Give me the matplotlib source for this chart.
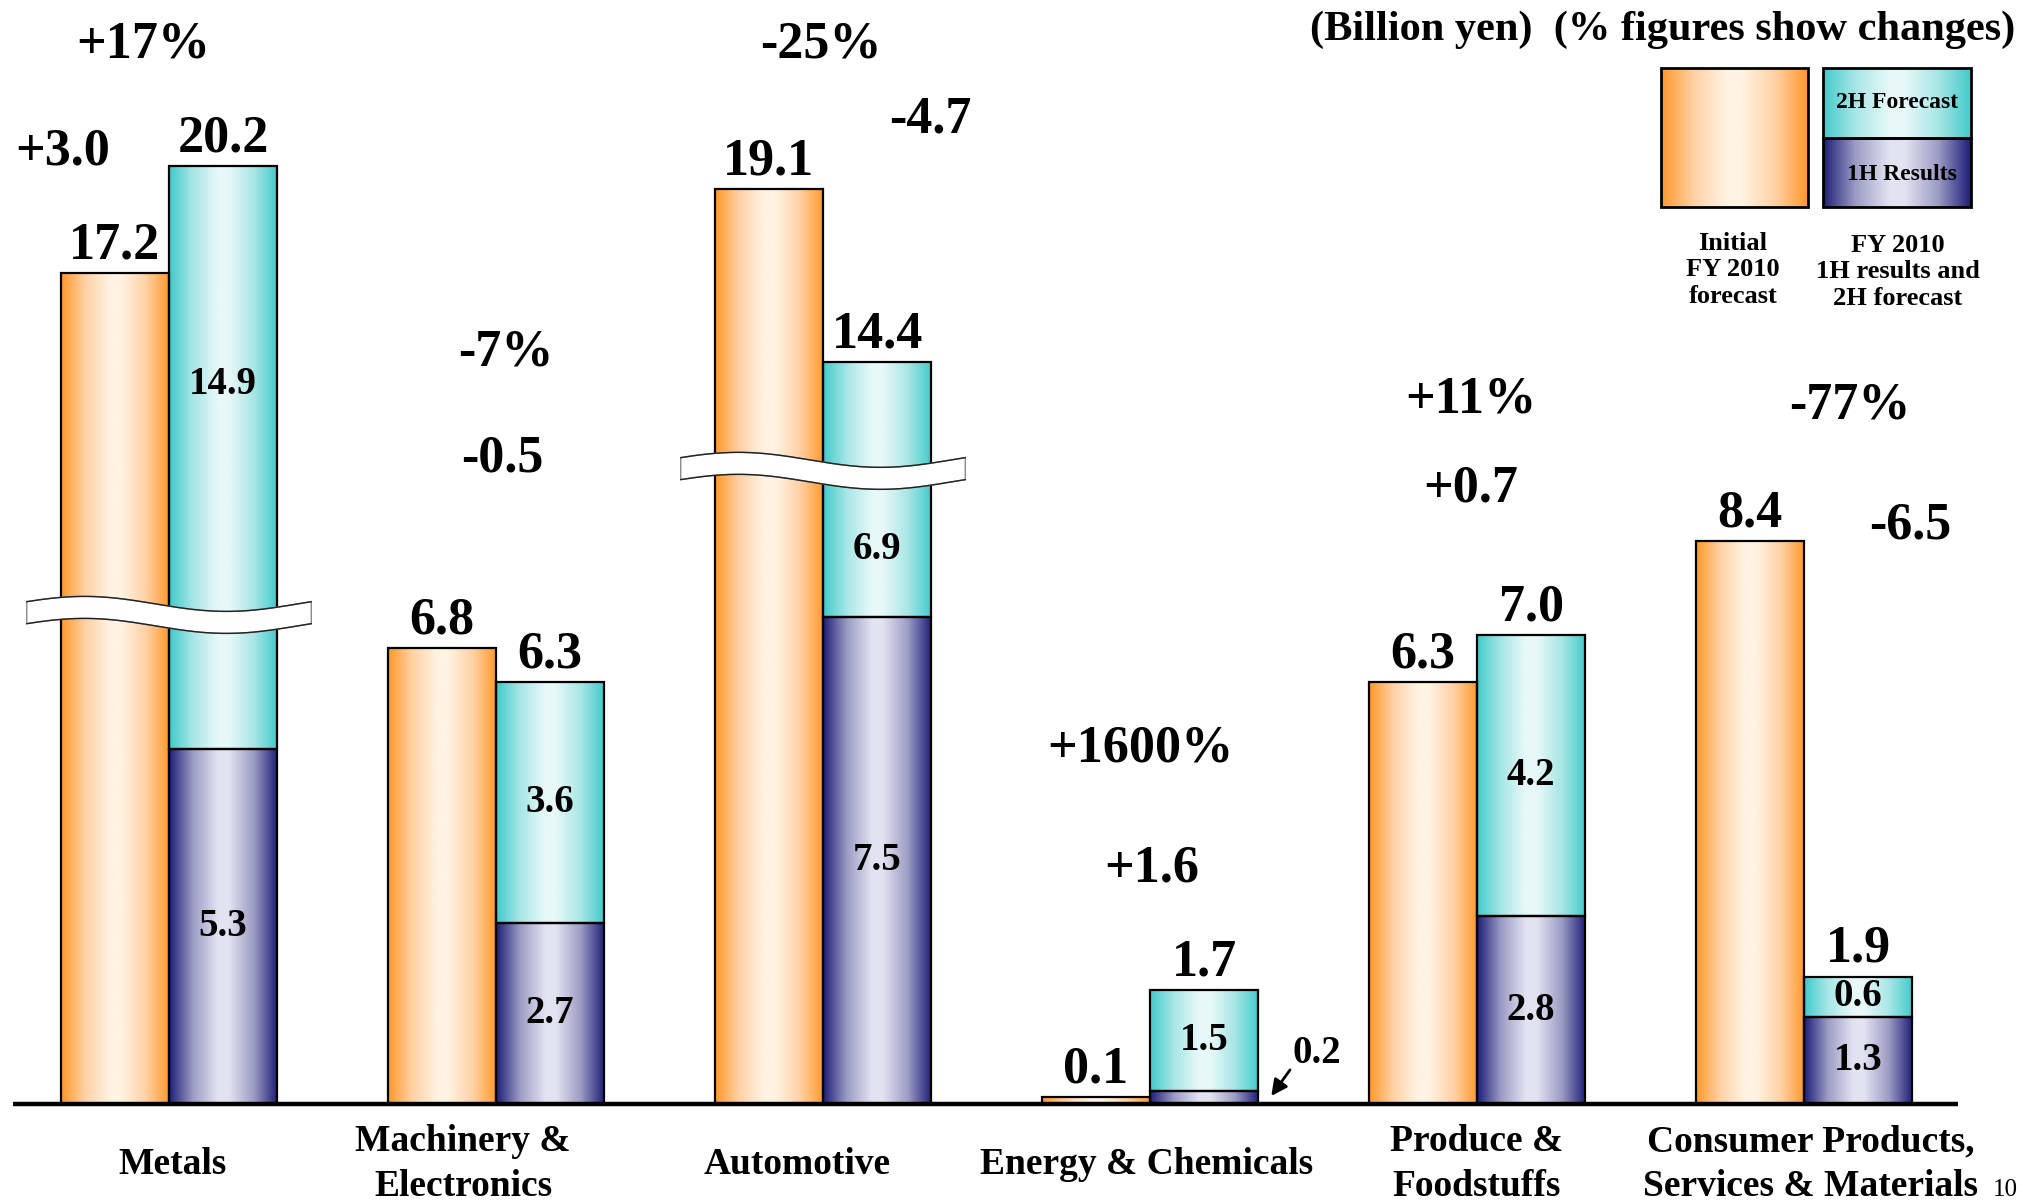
import numpy as np
import matplotlib
matplotlib.use('Agg')
import matplotlib.pyplot as plt
from matplotlib.colors import LinearSegmentedColormap
from matplotlib.patches import Rectangle, Polygon

plt.rcParams['font.family'] = ['Liberation Serif', 'DejaVu Serif']
plt.rcParams['font.weight'] = 'bold'

# Billion yen, FY2010
categories = ['Metals', 'Machinery &\nElectronics', 'Automotive', 'Energy & Chemicals',
              'Produce &\nFoodstuffs', 'Consumer Products,\nServices & Materials']
initial_forecast = [17.2, 6.8, 19.1, 0.1, 6.3, 8.4]
first_half = [5.3, 2.7, 7.5, 0.2, 2.8, 1.3]
second_half = [14.9, 3.6, 6.9, 1.5, 4.2, 0.6]
change_pct = ['+17%', '-7%', '-25%', '+1600%', '+11%', '-77%']
change_abs = ['+3.0', '-0.5', '-4.7', '+1.6', '+0.7', '-6.5']

# broken bars: value where squeezing starts, squeeze factor, height of the break mark
breaks = {0: (7.0, 0.53, 7.3), 2: (7.0, 0.55, 9.45)}

W = 0.331          # bar width in group units
PX_X = 327.0       # pixels per group
PX_Y = 67.0        # pixels per value unit


def shown(i, v):
    if i in breaks:
        b, k, _ = breaks[i]
        if v > b:
            return b + (v - b) * k
    return v


def make_cmap(edge, mid, center):
    return LinearSegmentedColormap.from_list(
        'g', [(0, edge), (0.22, mid), (0.45, center), (0.55, center), (0.78, mid), (1, edge)])


orange = make_cmap('#FF982A', '#FFD1A5', '#FFF3E3')
cyan = make_cmap('#42CACA', '#A8E6E6', '#E8F8F8')
navy = make_cmap('#1E1E78', '#9C9CC4', '#E2E3F1')
grad = np.linspace(0, 1, 256)[np.newaxis, :]


def grad_rect(axis, x0, x1, y0, y1, cmap, lw=1.6):
    axis.imshow(grad, extent=(x0, x1, y0, y1), aspect='auto', cmap=cmap,
                interpolation='bilinear', zorder=2)
    axis.add_patch(Rectangle((x0, y0), x1 - x0, y1 - y0, fill=False,
                             edgecolor='black', lw=lw, zorder=3))


fig = plt.figure(figsize=(20.23, 12.04), dpi=100)
ax = fig.add_axes([0, 0, 1, 1])
ax.axis('off')

big = 37.5
small = 28

for i in range(len(categories)):
    o = shown(i, initial_forecast[i])
    h1 = shown(i, first_half[i])
    tot_v = round(first_half[i] + second_half[i], 1)
    tot = shown(i, tot_v)

    grad_rect(ax, i - W, i, 0, o, orange)
    grad_rect(ax, i, i + W, 0, h1, navy)
    grad_rect(ax, i, i + W, h1, tot, cyan)

    # totals above bars
    ax.annotate(f'{initial_forecast[i]:.1f}', (i - W / 2, o), xytext=(0, 20),
                textcoords='offset points', ha='center', va='center', fontsize=big)
    ax.annotate(f'{tot_v:.1f}', (i + W / 2, tot), xytext=(0, 20),
                textcoords='offset points', ha='center', va='center', fontsize=big)

    # segment values
    if h1 >= 0.5:
        ax.text(i + W / 2, h1 / 2, f'{first_half[i]:.1f}', ha='center', va='center',
                fontsize=small, zorder=5)
    else:
        ax.annotate(f'{first_half[i]:.1f}', (i + W + 0.04, h1 * 0.6),
                    xytext=(i + W + 0.18, 0.76), ha='center', va='center', fontsize=small,
                    arrowprops=dict(arrowstyle='-|>', color='black', lw=2,
                                    mutation_scale=24, shrinkA=0, shrinkB=0,
                                    relpos=(0.0, 0.15)), zorder=5)
    y0, y1 = h1, tot
    if i in breaks and y0 < breaks[i][2] < y1:
        m = breaks[i][2]
        parts = [(y0, m - 0.17), (m + 0.17, y1)]
        y0, y1 = max(parts, key=lambda p: p[1] - p[0])
    ax.text(i + W / 2, (y0 + y1) / 2, f'{second_half[i]:.1f}', ha='center', va='center',
            fontsize=small, zorder=5)

# wavy break marks across the squeezed bars
t = np.linspace(0, 1, 200)
amp = 7.5 / PX_Y
half = 11 / PX_Y
for i, (_, _, yb) in breaks.items():
    xs = i - 0.435 + 0.87 * t
    wave = yb + amp * np.sin(2 * np.pi * t + 0.3)
    top = wave + half
    bot = wave - half
    pts = np.vstack([np.column_stack([xs, top]), np.column_stack([xs[::-1], bot[::-1]])])
    ax.add_patch(Polygon(pts, closed=True, facecolor='white', edgecolor='#888888',
                         lw=1.0, zorder=6))
    ax.plot(xs, top, color='#222222', lw=1.0, zorder=7)
    ax.plot(xs, bot, color='#222222', lw=1.0, zorder=7)

# change labels
pct_pos = [(-0.08, 15.81), (0.03, 11.22), (-0.006, 15.81), (-0.03, 5.31), (-0.02, 10.51), (0.14, 10.42)]
abs_pos = [(-0.324, 14.22), (0.02, 9.64), (0.327, 14.70), (0.006, 3.52), (-0.02, 9.18), (0.324, 8.63)]
for i in range(len(categories)):
    ax.text(i + pct_pos[i][0], pct_pos[i][1], change_pct[i], ha='center', va='center', fontsize=big)
    ax.text(i + abs_pos[i][0], abs_pos[i][1], change_abs[i], ha='center', va='center', fontsize=big)

# baseline and category names
ax.plot([-0.477, 5.471], [0, 0], color='black', lw=3.2, solid_capstyle='butt', zorder=4)
name_dx = [0.01, -0.1, -0.08, -0.01, 0.0, 0.02]
for i, name in enumerate(categories):
    ax.text(i + name_dx[i], -0.9, name, ha='center', va='center', fontsize=27,
            linespacing=1.38)

ax.set_xlim(-169 / PX_X, (2023 - 169) / PX_X)
ax.set_ylim(-100 / PX_Y, 1104 / PX_Y)

# legend, drawn in pixel units
lax = fig.add_axes([0, 0, 1, 1], zorder=5)
lax.axis('off')
grad_rect(lax, 1661, 1808, 68, 207, orange, lw=2)
grad_rect(lax, 1823, 1971, 68, 138, cyan, lw=2)
grad_rect(lax, 1823, 1971, 138, 207, navy, lw=2)
lax.text(1897, 102, '2H Forecast', ha='center', va='center', fontsize=17, zorder=5)
lax.text(1902, 175, '1H Results', ha='center', va='center', fontsize=17, zorder=5)
lax.text(1733, 270, 'Initial\nFY 2010\nforecast', ha='center', va='center', fontsize=19,
         linespacing=1.2)
lax.text(1898, 272, 'FY 2010\n1H results and\n2H forecast', ha='center', va='center',
         fontsize=19, linespacing=1.2)
lax.set_xlim(0, 2023)
lax.set_ylim(1204, 0)

fig.text(2015 / 2023, 1 - 30 / 1204, '(Billion yen)  (% figures show changes)',
         ha='right', va='center', fontsize=30.5)
fig.text(2018 / 2023, 3 / 1204, '10', ha='right', va='bottom', fontsize=18,
         fontweight='normal')

fig.savefig('out.png', dpi=100)
